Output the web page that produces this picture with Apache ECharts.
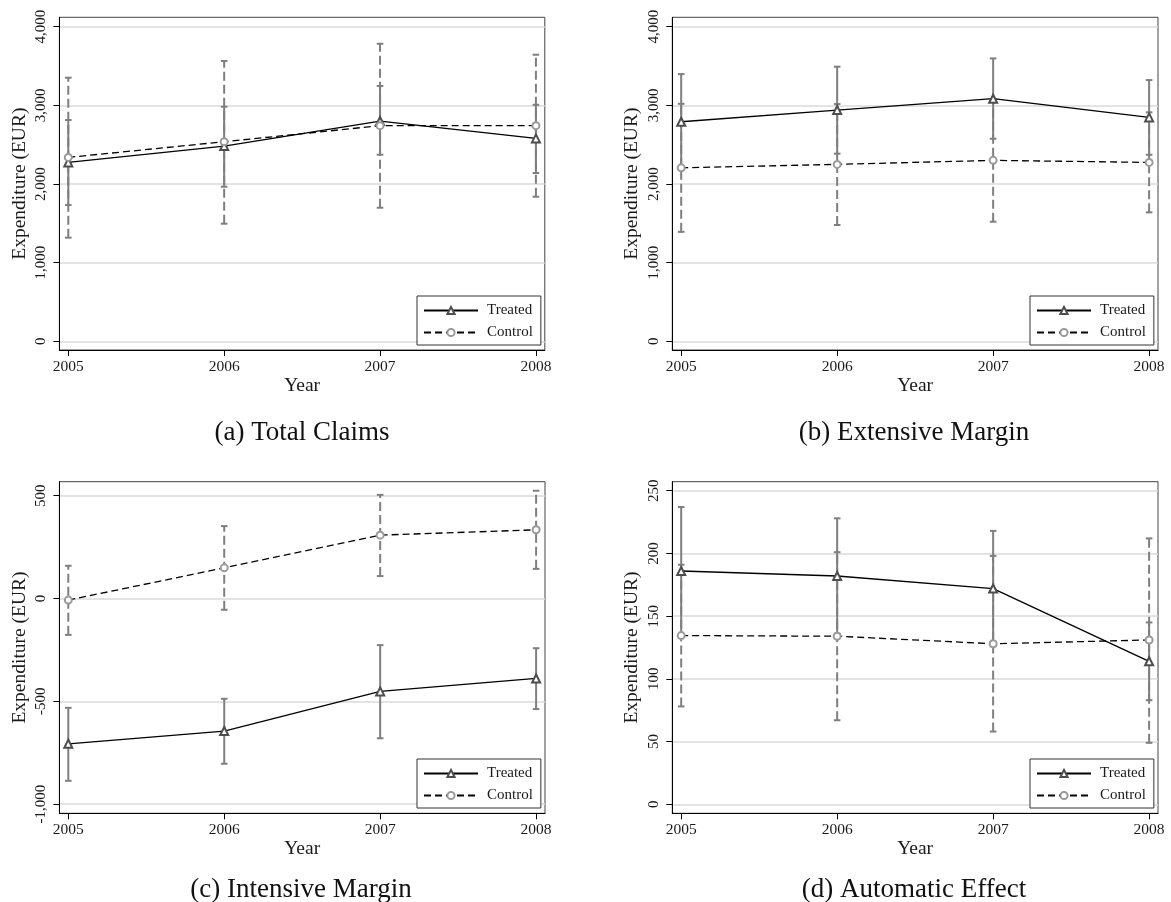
<!DOCTYPE html>
<html lang="en">
<head>
<meta charset="UTF-8">
<title>Expenditure by year</title>
<script src="https://cdn.jsdelivr.net/npm/echarts@6/dist/echarts.min.js"></script>
<style>
  html, body { margin: 0; padding: 0; background: #fff; }
  #main { width: 1171px; height: 902px; }
</style>
</head>
<body>
<div id="main"></div>
<script>
var years = [2005, 2006, 2007, 2008];

// (a) Total Claims
var aTreated   = [2275, 2483, 2801, 2580];
var aTreatedLo = [1733, 1966, 2373, 2140];
var aTreatedHi = [2814, 2983, 3246, 3008];
var aControl   = [2339, 2538, 2742, 2742];
var aControlLo = [1318, 1496, 1699, 1839];
var aControlHi = [3352, 3564, 3784, 3644];
var aTicks = [0, 1000, 2000, 3000, 4000];

// (b) Extensive Margin
var bTreated   = [2792, 2941, 3085, 2847];
var bTreatedLo = [2186, 2386, 2576, 2372];
var bTreatedHi = [3398, 3492, 3597, 3322];
var bControl   = [2206, 2250, 2301, 2275];
var bControlLo = [1392, 1479, 1521, 1640];
var bControlHi = [3020, 3017, 3081, 2912];
var bTicks = [0, 1000, 2000, 3000, 4000];

// (c) Intensive Margin
var cTreated   = [-707, -645, -452, -389];
var cTreatedLo = [-887, -804, -680, -538];
var cTreatedHi = [-532, -488, -227, -242];
var cControl   = [-8, 149, 308, 334];
var cControlLo = [-177, -55, 109, 144];
var cControlHi = [159, 352, 504, 524];
var cTicks = [-1000, -500, 0, 500];

// (d) Automatic Effect
var dTreated   = [186, 182, 172, 114];
var dTreatedLo = [135, 136, 126, 83];
var dTreatedHi = [237, 228, 218, 145];
var dControl   = [134.5, 134, 128, 131];
var dControlLo = [78, 67, 58, 49];
var dControlHi = [191, 201, 198, 212];
var dTicks = [0, 50, 100, 150, 200, 250];

var captions = ['(a) Total Claims', '(b) Extensive Margin', '(c) Intensive Margin', '(d) Automatic Effect'];

var FONT = '"Liberation Serif", "DejaVu Serif", serif';

var panels = [
  { t: aTreated, tLo: aTreatedLo, tHi: aTreatedHi, c: aControl, cLo: aControlLo, cHi: aControlHi, ticks: aTicks, min: -110, max: 4120,
    left: 59.4, top: 17.3, width: 485.4, height: 332.7, legendLeft: 417, legendTop: 296, capX: 302, capY: 433 },
  { t: bTreated, tLo: bTreatedLo, tHi: bTreatedHi, c: bControl, cLo: bControlLo, cHi: bControlHi, ticks: bTicks, min: -110, max: 4120,
    left: 672.3, top: 17.3, width: 485.7, height: 332.7, legendLeft: 1030, legendTop: 296, capX: 914, capY: 433 },
  { t: cTreated, tLo: cTreatedLo, tHi: cTreatedHi, c: cControl, cLo: cControlLo, cHi: cControlHi, ticks: cTicks, min: -1045, max: 568,
    left: 59.4, top: 481.7, width: 485.6, height: 331.6, legendLeft: 417, legendTop: 759, capX: 301, capY: 890 },
  { t: dTreated, tLo: dTreatedLo, tHi: dTreatedHi, c: dControl, cLo: dControlLo, cHi: dControlHi, ticks: dTicks, min: -7.2, max: 257.2,
    left: 672.3, top: 481.7, width: 485.7, height: 331.6, legendLeft: 1030, legendTop: 759, capX: 914, capY: 890 }
];

function fmt(v) {
  return String(v).replace(/\B(?=(\d{3})+(?!\d))/g, ',');
}

// vertical bar with small caps, drawn through the axis coords
function ciRender(dashed) {
  return function (params, api) {
    var x = api.value(0);
    var pLo = api.coord([x, api.value(1)]);
    var pHi = api.coord([x, api.value(2)]);
    var w = 3.3;
    var st = { stroke: '#7f7f7f', lineWidth: 2, lineDash: dashed ? [9, 4] : null, fill: null };
    var cap = { stroke: '#7f7f7f', lineWidth: 2, fill: null };
    return {
      type: 'group',
      children: [
        { type: 'line', shape: { x1: pLo[0], y1: pLo[1], x2: pHi[0], y2: pHi[1] }, style: st },
        { type: 'line', shape: { x1: pLo[0] - w, y1: pLo[1], x2: pLo[0] + w, y2: pLo[1] }, style: cap },
        { type: 'line', shape: { x1: pHi[0] - w, y1: pHi[1], x2: pHi[0] + w, y2: pHi[1] }, style: cap }
      ]
    };
  };
}

function pairs(vals) {
  return years.map(function (y, k) { return [y, vals[k]]; });
}
function triples(lo, hi) {
  return years.map(function (y, k) { return [y, lo[k], hi[k]]; });
}

var grid = [], xAxis = [], yAxis = [], series = [], legend = [], graphic = [];

panels.forEach(function (p, i) {
  grid.push({ left: p.left, top: p.top, width: p.width, height: p.height,
    show: true, borderColor: '#444', borderWidth: 1, backgroundColor: '#fff' });

  xAxis.push({
    gridIndex: i, type: 'value', min: 2004.943, max: 2008.057,
    name: 'Year', nameLocation: 'middle', nameGap: 26,
    nameTextStyle: { fontFamily: FONT, fontSize: 19.5, color: '#1a1a1a' },
    axisLine: { show: true, onZero: false, lineStyle: { color: '#000', width: 1 } },
    axisTick: { show: true, length: 6, customValues: years, lineStyle: { color: '#000' } },
    axisLabel: { customValues: years, margin: 9, fontFamily: FONT, fontSize: 15.5, color: '#1a1a1a',
      formatter: function (v) { return String(v); } },
    splitLine: { show: false }
  });

  yAxis.push({
    gridIndex: i, type: 'value', min: p.min, max: p.max,
    name: 'Expenditure (EUR)', nameLocation: 'middle', nameGap: 30,
    nameTextStyle: { fontFamily: FONT, fontSize: 19.5, color: '#1a1a1a' },
    axisLine: { show: true, onZero: false, lineStyle: { color: '#000', width: 1 } },
    axisTick: { show: true, length: 6, customValues: p.ticks, lineStyle: { color: '#000' } },
    axisLabel: { customValues: p.ticks, rotate: 90, margin: 11, fontFamily: FONT, fontSize: 15, color: '#1a1a1a',
      formatter: fmt },
    splitLine: { show: true, lineStyle: { color: '#dadada', width: 1.6 } }
  });

  series.push({
    type: 'custom', name: 'ci-treated', xAxisIndex: i, yAxisIndex: i, z: 2,
    renderItem: ciRender(false), encode: { x: 0, y: [1, 2] },
    data: triples(p.tLo, p.tHi), silent: true
  });
  series.push({
    type: 'custom', name: 'ci-control', xAxisIndex: i, yAxisIndex: i, z: 2,
    renderItem: ciRender(true), encode: { x: 0, y: [1, 2] },
    data: triples(p.cLo, p.cHi), silent: true
  });
  series.push({
    type: 'line', name: 'Treated', xAxisIndex: i, yAxisIndex: i, z: 3,
    data: pairs(p.t), symbol: 'emptyTriangle', symbolSize: 8, showAllSymbol: true,
    lineStyle: { color: '#000', width: 1.3 },
    itemStyle: { color: '#4d4d4d', borderWidth: 1.2 }
  });
  series.push({
    type: 'line', name: 'Control', xAxisIndex: i, yAxisIndex: i, z: 3,
    data: pairs(p.c), symbol: 'emptyCircle', symbolSize: 7, showAllSymbol: true,
    lineStyle: { color: '#000', width: 1.3, type: [7, 4] },
    itemStyle: { color: '#9a9a9a', borderWidth: 1.2 }
  });

  legend.push({
    data: ['Treated', 'Control'], orient: 'vertical',
    left: p.legendLeft, top: p.legendTop,
    itemWidth: 54, itemHeight: 9, itemGap: 7,
    padding: [7, 8, 5, 6],
    backgroundColor: '#fff', borderColor: '#333', borderWidth: 1, borderRadius: 0,
    selectedMode: false,
    textStyle: { fontFamily: FONT, fontSize: 15, color: '#1a1a1a', padding: [0, 0, 0, 4] }
  });

  graphic.push({
    type: 'text', x: p.capX, y: p.capY,
    style: { text: captions[i], fontFamily: FONT, fontSize: 27, fill: '#111',
      align: 'center', verticalAlign: 'middle' }
  });
});

var myChart = echarts.init(document.getElementById('main'));
myChart.setOption({
  animation: false,
  backgroundColor: '#fff',
  grid: grid,
  xAxis: xAxis,
  yAxis: yAxis,
  legend: legend,
  graphic: graphic,
  series: series
});
window.onresize = function () { myChart.resize(); };
</script>
</body>
</html>
